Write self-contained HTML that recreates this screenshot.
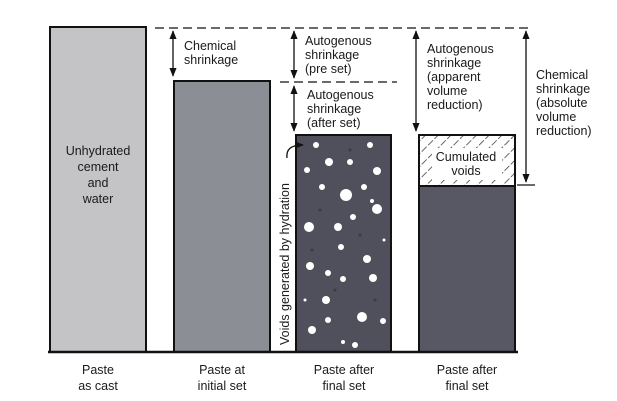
<!DOCTYPE html>
<html><head><meta charset="utf-8"><style>
html,body{margin:0;padding:0;background:#fff;}
svg{display:block;}
text{font-family:"Liberation Sans",sans-serif;font-size:12.5px;fill:#1a1a1a;}
</style></head><body>
<svg width="617" height="401" viewBox="0 0 617 401" xmlns="http://www.w3.org/2000/svg">
<defs>
<marker id="a" viewBox="0 0 10 10" refX="9" refY="5" markerWidth="7" markerHeight="7" orient="auto-start-reverse"><path d="M0,1 L10,5 L0,9 z" fill="#111"/></marker>
<pattern id="h" width="9" height="9" patternUnits="userSpaceOnUse" patternTransform="rotate(45)"><rect width="9" height="9" fill="#fff"/><line x1="0" y1="0" x2="0" y2="9" stroke="#444" stroke-width="1.6" stroke-dasharray="7 2"/></pattern>
</defs>
<line x1="155" y1="28" x2="532" y2="28" stroke="#111" stroke-width="1.3" stroke-dasharray="9 5"/>
<line x1="280" y1="82" x2="397" y2="82" stroke="#111" stroke-width="1.3" stroke-dasharray="9 5"/>
<line x1="517" y1="185" x2="535" y2="185" stroke="#111" stroke-width="1.3"/>
<rect x="50" y="27" width="96" height="325" fill="#c4c4c6" stroke="#111" stroke-width="2"/>
<rect x="174" y="81" width="96" height="271" fill="#8b8e94" stroke="#111" stroke-width="2"/>
<rect x="296" y="135" width="95" height="217" fill="#4f505b" stroke="#111" stroke-width="2"/>
<rect x="419" y="135" width="96" height="51" fill="url(#h)" stroke="#111" stroke-width="2"/>
<rect x="419" y="186" width="96" height="166" fill="#575864" stroke="#111" stroke-width="2"/>
<line x1="48" y1="352" x2="518" y2="352" stroke="#111" stroke-width="2.5"/>
<rect x="432" y="148" width="70" height="32" fill="#fff"/>
<g fill="#fff">
<circle cx="316" cy="145" r="3"/><circle cx="370" cy="145" r="3"/><circle cx="329" cy="162" r="4"/><circle cx="350" cy="162" r="3"/>
<circle cx="307" cy="170" r="3"/><circle cx="377" cy="171" r="4"/><circle cx="322" cy="187" r="3"/><circle cx="346" cy="195" r="6"/>
<circle cx="364" cy="187" r="3"/><circle cx="372" cy="201" r="2"/><circle cx="377" cy="209" r="5"/><circle cx="353" cy="217" r="3"/>
<circle cx="309" cy="227" r="5"/><circle cx="338" cy="227" r="4"/><circle cx="341" cy="247" r="3"/><circle cx="367" cy="259" r="4"/>
<circle cx="310" cy="266" r="4"/><circle cx="328" cy="273" r="3"/><circle cx="343" cy="279" r="3"/><circle cx="373" cy="278" r="4"/>
<circle cx="326" cy="300" r="4"/><circle cx="362" cy="317" r="5"/><circle cx="328" cy="320" r="3"/><circle cx="383" cy="321" r="3"/>
<circle cx="312" cy="330" r="4"/><circle cx="355" cy="345" r="3"/><circle cx="343" cy="342" r="2"/><circle cx="305" cy="300" r="1.5"/><circle cx="384" cy="240" r="1.5"/>
</g>
<g fill="#3a3b45"><circle cx="320" cy="210" r="1.5"/><circle cx="360" cy="235" r="1.5"/><circle cx="335" cy="290" r="1.5"/><circle cx="375" cy="300" r="1.5"/><circle cx="312" cy="250" r="1.5"/><circle cx="350" cy="150" r="1.5"/></g>
<g stroke="#111" stroke-width="1.3" fill="none">
<line x1="173" y1="31" x2="173" y2="76" marker-start="url(#a)" marker-end="url(#a)"/>
<line x1="294" y1="31" x2="294" y2="78" marker-start="url(#a)" marker-end="url(#a)"/>
<line x1="294" y1="86" x2="294" y2="131" marker-start="url(#a)" marker-end="url(#a)"/>
<line x1="416" y1="31" x2="416" y2="131" marker-start="url(#a)" marker-end="url(#a)"/>
<line x1="526" y1="31" x2="526" y2="182" marker-start="url(#a)" marker-end="url(#a)"/>
<path d="M287,158 C286,150 290,145 303,145" marker-end="url(#a)"/>
</g>
<text x="184" y="50">Chemical</text><text x="184" y="64">shrinkage</text>
<text x="305" y="45">Autogenous</text><text x="305" y="59">shrinkage</text><text x="305" y="73">(pre set)</text>
<text x="307" y="99">Autogenous</text><text x="307" y="113">shrinkage</text><text x="307" y="127">(after set)</text>
<text x="427" y="53">Autogenous</text><text x="427" y="67">shrinkage</text><text x="427" y="81">(apparent</text><text x="427" y="95">volume</text><text x="427" y="109">reduction)</text>
<text x="536" y="79">Chemical</text><text x="536" y="93">shrinkage</text><text x="536" y="107">(absolute</text><text x="536" y="121">volume</text><text x="536" y="135">reduction)</text>
<g text-anchor="middle" style="font-size:14px">
<text x="98" y="155">Unhydrated</text><text x="98" y="171">cement</text><text x="98" y="187">and</text><text x="98" y="203">water</text>
</g>
<g text-anchor="middle">
<text x="466" y="161">Cumulated</text><text x="466" y="175">voids</text>
<text x="98" y="374">Paste</text><text x="98" y="390">as cast</text>
<text x="222" y="374">Paste at</text><text x="222" y="390">initial set</text>
<text x="344" y="374">Paste after</text><text x="344" y="390">final set</text>
<text x="467" y="374">Paste after</text><text x="467" y="390">final set</text>
</g>
<text transform="translate(289,345) rotate(-90)" style="font-size:12.5px">Voids generated by hydration</text>
</svg>
</body></html>
